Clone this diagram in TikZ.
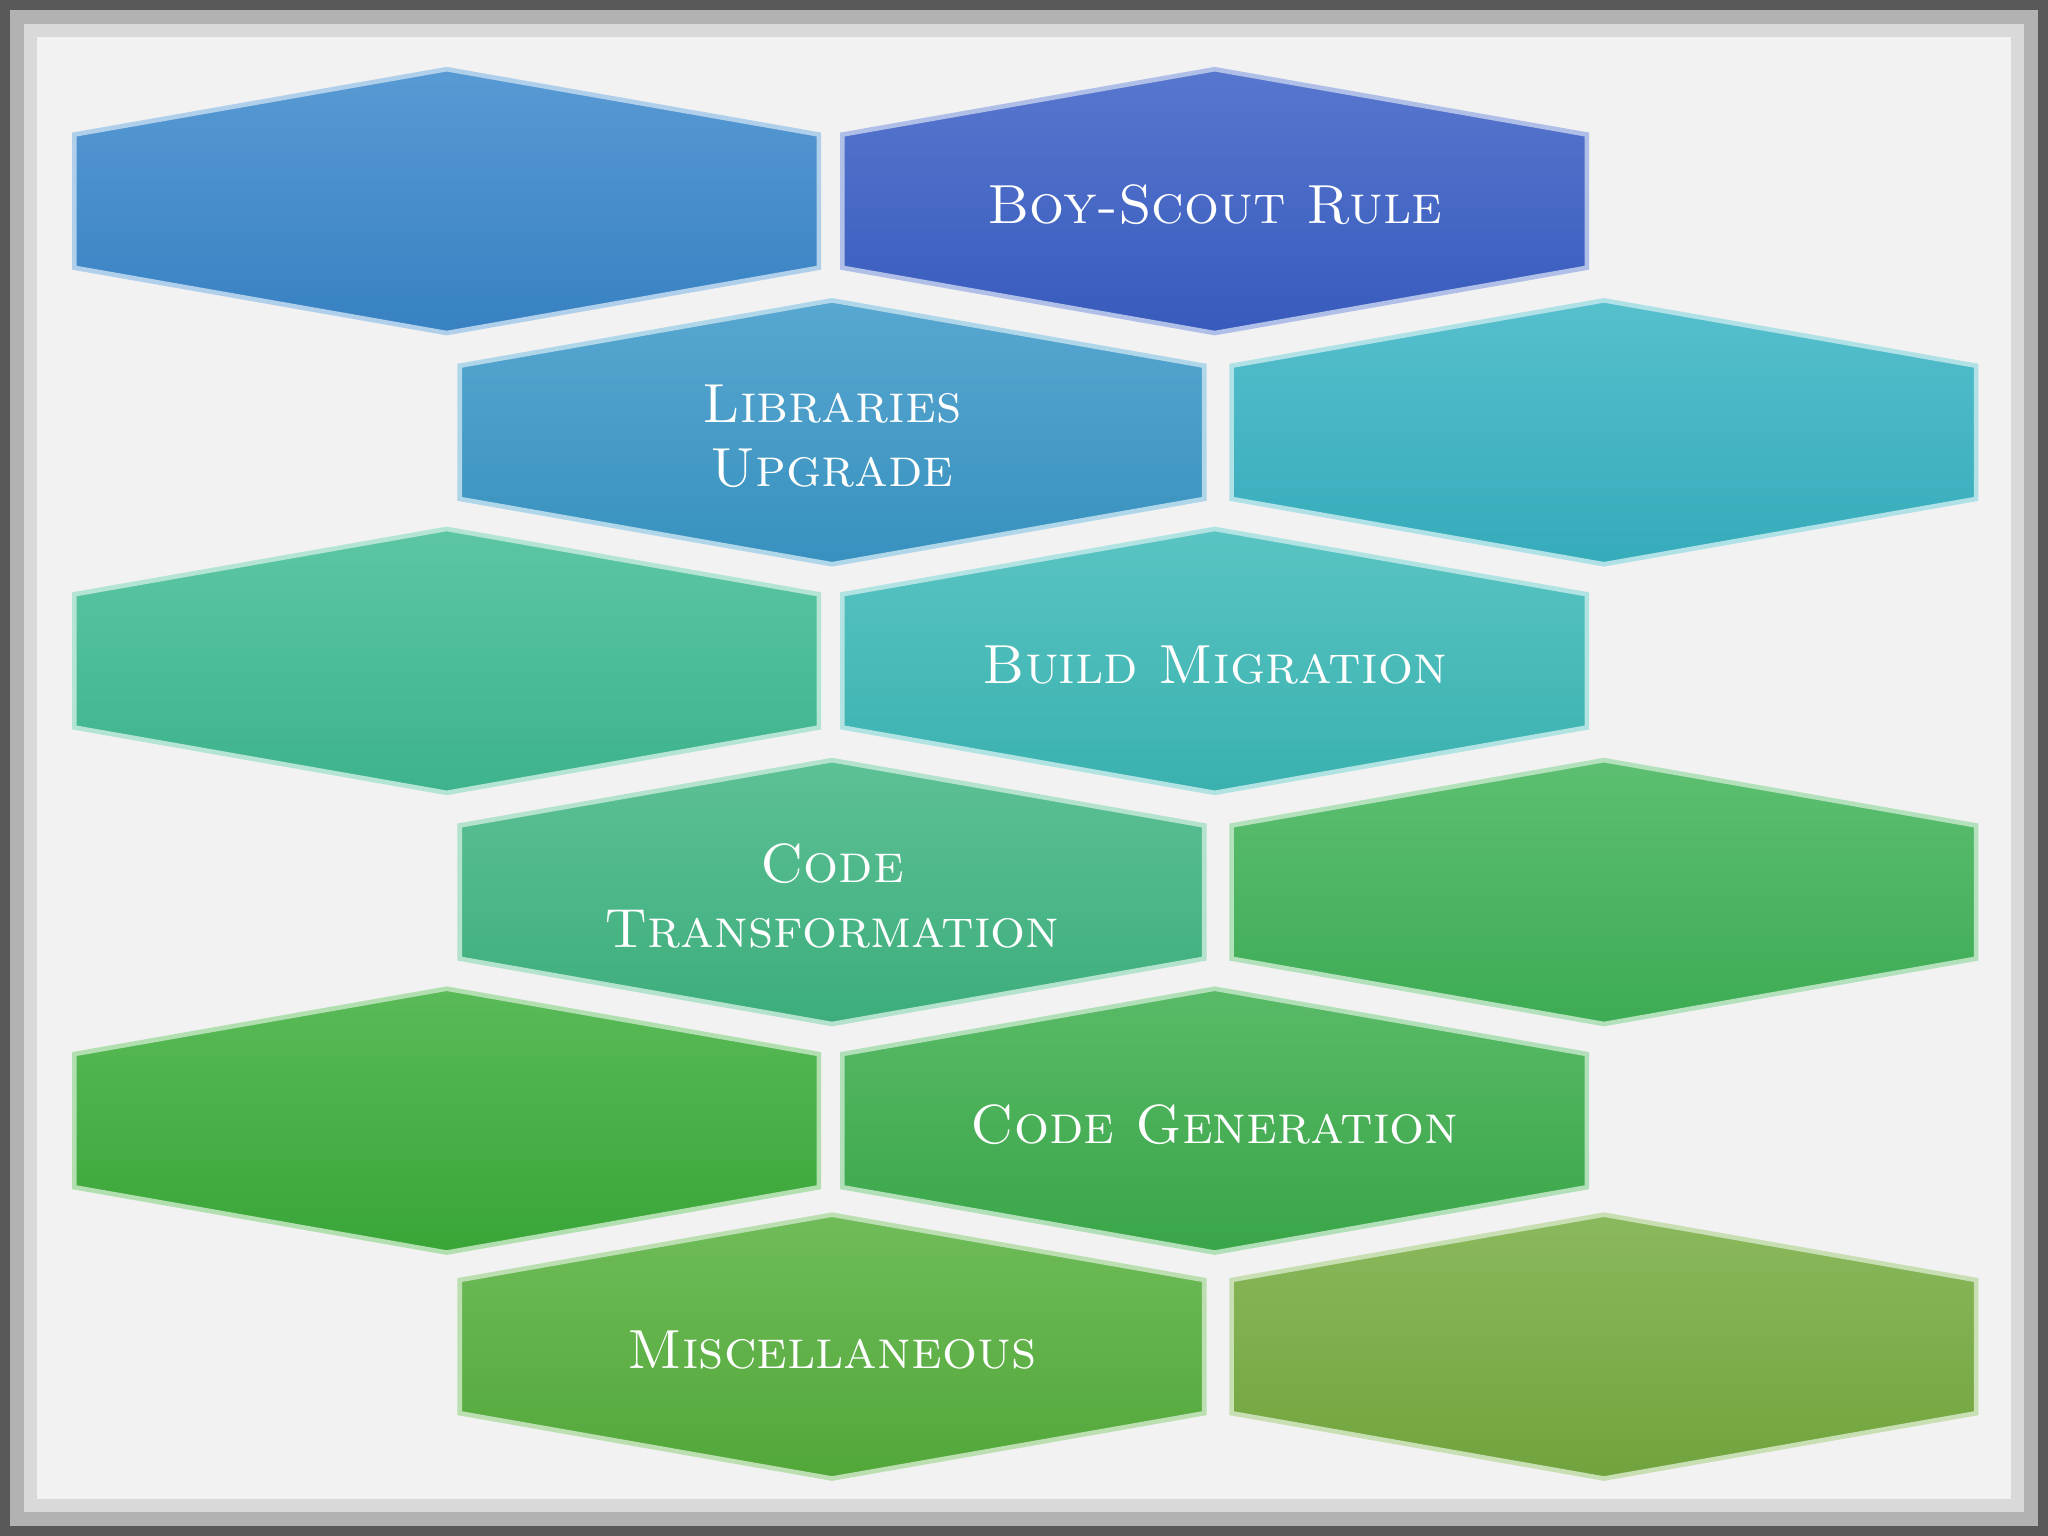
\documentclass[tikz,border=0pt]{standalone}
\begin{document}
\begin{tikzpicture}[x=0.01cm,y=-0.01cm,
  lbl/.style={text=white,font=\fontsize{12}{14}\selectfont\scshape,align=center}]
\useasboundingbox (0,0) rectangle (1568,1176);
\fill[gray!70!black] (0,0) rectangle (1568,1176);
\fill[gray!60] (8,8) rectangle (1560,1168);
\fill[gray!30] (18,18) rectangle (1550,1158);
\fill[white!95!black] (28,28) rectangle (1540,1148);
\newcommand\hexb[5]{%
 \shadedraw[top color=#3!85!white,bottom color=#3!95!black,draw=#3!40!white,line width=1pt]
  (#1-285,#2+50) -- (#1,#2) -- (#1+285,#2+50) -- (#1+285,#2+152) -- (#1,#2+202) -- (#1-285,#2+152) -- cycle;
 \node[lbl] (#4) at (#1,#2+104) {#5};}
\definecolor{c1}{HTML}{3A88CC}\definecolor{c2}{HTML}{3A5FC6}
\definecolor{c3}{HTML}{3A98C8}\definecolor{c4}{HTML}{38B4C4}
\definecolor{c5}{HTML}{40BC94}\definecolor{c6}{HTML}{3CBAB8}
\definecolor{c7}{HTML}{40B682}\definecolor{c8}{HTML}{40B458}
\definecolor{c9}{HTML}{3CAE3A}\definecolor{c10}{HTML}{3CAE4C}
\definecolor{c11}{HTML}{56B03C}\definecolor{c12}{HTML}{76AC40}
\hexb{342}{53}{c1}{h1}{}
\hexb{930}{53}{c2}{h2}{Boy-Scout Rule}
\hexb{637}{230}{c3}{h3}{Libraries\\Upgrade}
\hexb{1228}{230}{c4}{h4}{}
\hexb{342}{405}{c5}{h5}{}
\hexb{930}{405}{c6}{h6}{Build Migration}
\hexb{637}{582}{c7}{h7}{Code\\Transformation}
\hexb{1228}{582}{c8}{h8}{}
\hexb{342}{757}{c9}{h9}{}
\hexb{930}{757}{c10}{h10}{Code Generation}
\hexb{637}{930}{c11}{h11}{Miscellaneous}
\hexb{1228}{930}{c12}{h12}{}
\end{tikzpicture}
\end{document}
